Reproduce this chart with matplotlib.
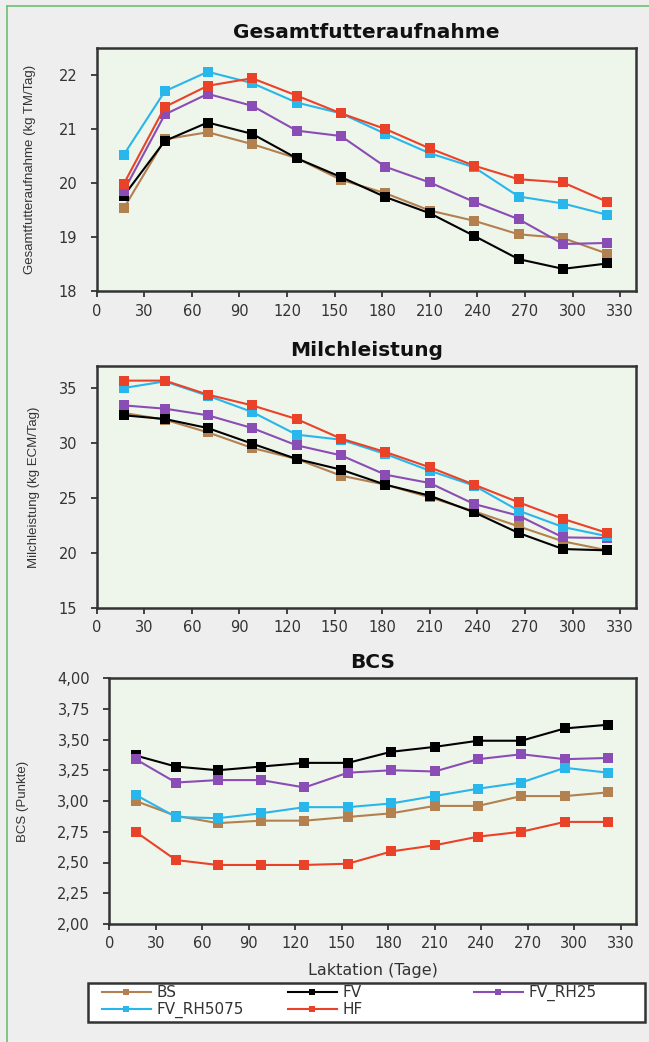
import matplotlib
matplotlib.use("Agg")
import matplotlib.pyplot as plt
from matplotlib.lines import Line2D
from matplotlib.patches import Rectangle

# ---------------- data ----------------
days = [17, 43, 70, 98, 126, 154, 182, 210, 238, 266, 294, 322]
series_names = ["BS", "FV", "FV_RH25", "FV_RH5075", "HF"]

dmi_BS = [19.53, 20.81, 20.94, 20.72, 20.46, 20.06, 19.81, 19.49, 19.30, 19.05, 18.98, 18.69]
dmi_FV = [19.76, 20.78, 21.12, 20.91, 20.46, 20.11, 19.74, 19.44, 19.02, 18.59, 18.41, 18.51]
dmi_RH25 = [19.85, 21.27, 21.65, 21.43, 20.97, 20.87, 20.30, 20.01, 19.65, 19.33, 18.87, 18.89]
dmi_RH5075 = [20.52, 21.70, 22.06, 21.85, 21.49, 21.29, 20.91, 20.55, 20.29, 19.75, 19.62, 19.41]
dmi_HF = [19.98, 21.41, 21.80, 21.94, 21.62, 21.29, 21.00, 20.64, 20.32, 20.07, 20.01, 19.65]

milk_BS = [32.73, 32.12, 30.97, 29.55, 28.55, 27.03, 26.21, 25.06, 23.79, 22.42, 21.06, 20.24]
milk_FV = [32.52, 32.18, 31.36, 29.94, 28.55, 27.58, 26.21, 25.21, 23.70, 21.82, 20.36, 20.24]
milk_RH25 = [33.42, 33.12, 32.52, 31.36, 29.79, 28.88, 27.12, 26.36, 24.45, 23.39, 21.42, 21.36]
milk_RH5075 = [35.00, 35.60, 34.30, 32.82, 30.76, 30.30, 29.00, 27.48, 26.12, 23.85, 22.36, 21.52]
milk_HF = [35.67, 35.67, 34.40, 33.42, 32.18, 30.40, 29.18, 27.79, 26.21, 24.61, 23.10, 21.82]

bcs_BS = [3.00, 2.88, 2.82, 2.84, 2.84, 2.87, 2.90, 2.96, 2.96, 3.04, 3.04, 3.07]
bcs_FV = [3.37, 3.28, 3.25, 3.28, 3.31, 3.31, 3.40, 3.44, 3.49, 3.49, 3.59, 3.62]
bcs_RH25 = [3.34, 3.15, 3.17, 3.17, 3.11, 3.23, 3.25, 3.24, 3.34, 3.38, 3.34, 3.35]
bcs_RH5075 = [3.05, 2.87, 2.86, 2.90, 2.95, 2.95, 2.98, 3.04, 3.10, 3.15, 3.27, 3.23]
bcs_HF = [2.75, 2.52, 2.48, 2.48, 2.48, 2.49, 2.59, 2.64, 2.71, 2.75, 2.83, 2.83]

x_ticks = [0, 30, 60, 90, 120, 150, 180, 210, 240, 270, 300, 330]
dmi_ticks = [18, 19, 20, 21, 22]
milk_ticks = [15, 20, 25, 30, 35]
bcs_ticks = [2.00, 2.25, 2.50, 2.75, 3.00, 3.25, 3.50, 3.75, 4.00]
bcs_labels = ["2,00", "2,25", "2,50", "2,75", "3,00", "3,25", "3,50", "3,75", "4,00"]

titles = ["Gesamtfutteraufnahme", "Milchleistung", "BCS"]
ylabels = ["Gesamtfutteraufnahme (kg TM/Tag)", "Milchleistung (kg ECM/Tag)", "BCS (Punkte)"]
xlabel = "Laktation (Tage)"

colors = {"BS": "#b3804f", "FV": "#000000", "FV_RH25": "#8a4db5",
          "FV_RH5075": "#29b6ea", "HF": "#ea4129"}

# ---------------- figure ----------------
W, H = 649, 1042
fig = plt.figure(figsize=(W / 100, H / 100), dpi=100)
fig.patch.set_facecolor("#eeeeee")

def frac(left, top, right, bottom):
    return [left / W, 1 - bottom / H, (right - left) / W, (bottom - top) / H]

positions = [frac(96.7, 48, 636, 291), frac(96.7, 366, 636, 608), frac(109.3, 678, 636, 924)]
ylabel_x = [36, 40, 29]
panels = [
    ([dmi_BS, dmi_FV, dmi_RH25, dmi_RH5075, dmi_HF], (18, 22.5), dmi_ticks, [str(t) for t in dmi_ticks]),
    ([milk_BS, milk_FV, milk_RH25, milk_RH5075, milk_HF], (15, 37), milk_ticks, [str(t) for t in milk_ticks]),
    ([bcs_BS, bcs_FV, bcs_RH25, bcs_RH5075, bcs_HF], (2, 4), bcs_ticks, bcs_labels),
]

txt_col = "#333333"
handles = {}
for i, (pos, (data, ylim, yt, ytl)) in enumerate(zip(positions, panels)):
    ax = fig.add_axes(pos)
    ax.set_facecolor("#eef5ea")
    for name, vals in zip(series_names, data):
        ln, = ax.plot(days, vals, color=colors[name], lw=1.5, marker="s",
                      markersize=7, markeredgewidth=0, label=name)
        handles[name] = ln
    ax.set_xlim(0, 340)
    ax.set_ylim(*ylim)
    ax.set_xticks(x_ticks)
    ax.set_xticklabels([str(t) for t in x_ticks])
    ax.set_yticks(yt)
    ax.set_yticklabels(ytl)
    ax.tick_params(axis="both", direction="out", length=4, width=1.3,
                   labelsize=10.5, colors=txt_col)
    ax.tick_params(axis="x", pad=5)
    ax.tick_params(axis="y", pad=10)
    for sp in ax.spines.values():
        sp.set_linewidth(1.8)
        sp.set_color("#333333")
    ax.set_title(titles[i], fontsize=14.5, fontweight="bold", pad=7, color="#111111")
    ax.set_ylabel(ylabels[i], fontsize=9.5,
                  family=["Liberation Sans", "DejaVu Sans"], color=txt_col)
    x0 = pos[0] * W
    wpx = pos[2] * W
    ax.yaxis.set_label_coords((ylabel_x[i] - x0) / wpx, 0.5)
    if i == 2:
        ax.set_xlabel(xlabel, fontsize=11.5, color=txt_col, labelpad=8)

# legend box
fig.add_artist(Rectangle((88 / W, 1 - 1022 / H), (645 - 88) / W, 39 / H,
                         transform=fig.transFigure, facecolor="white",
                         edgecolor="#333333", linewidth=1.8, zorder=1))
columns = [["BS", "FV_RH5075"], ["FV", "HF"], ["FV_RH25"]]
col_x = [102, 288, 474]
for names, cx in zip(columns, col_x):
    leg = fig.legend([handles[n] for n in names], names, ncol=1,
                     bbox_to_anchor=(cx / W, 1 - 985 / H), loc="upper left",
                     frameon=False, fontsize=11, handlelength=3.2, markerscale=0.7,
                     borderaxespad=0, borderpad=0, labelspacing=0.15,
                     handletextpad=0.4)
    leg.set_zorder(3)
    for t in leg.get_texts():
        t.set_color(txt_col)

# green page border (left and top)
fig.add_artist(Line2D([7 / W, 7 / W], [0, 1 - 6 / H], color="#6fbf73", lw=1.2))
fig.add_artist(Line2D([7 / W, 1], [1 - 6 / H, 1 - 6 / H], color="#6fbf73", lw=1.2))

fig.savefig("out.png", dpi=100, facecolor=fig.get_facecolor())
